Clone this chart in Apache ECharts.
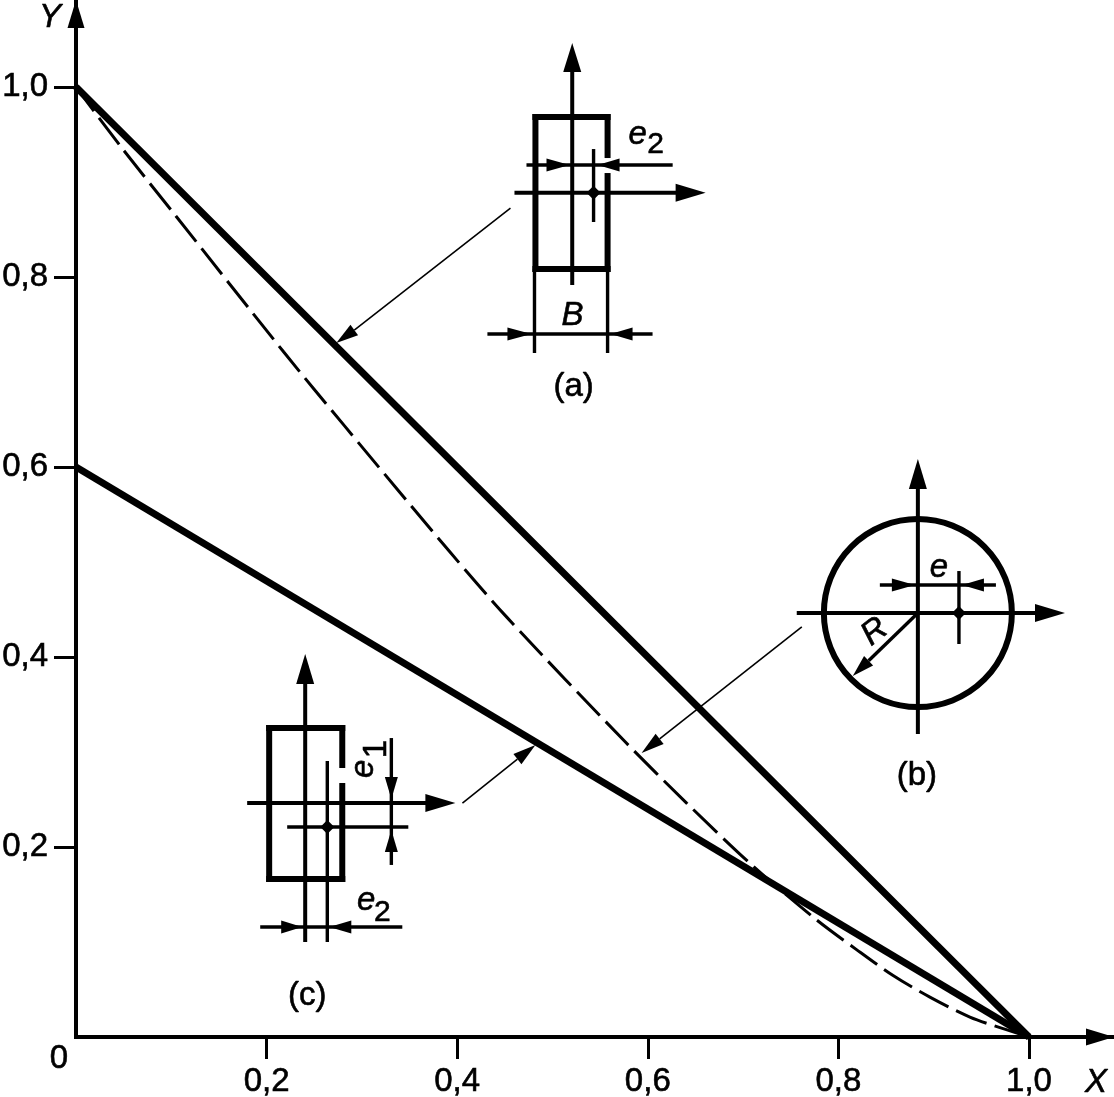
<!DOCTYPE html>
<html><head><meta charset="utf-8">
<style>html,body{margin:0;padding:0;background:#fff}#c{width:1114px;height:1097px}</style>
<script src="https://cdn.jsdelivr.net/npm/echarts@6/dist/echarts.min.js"></script>
</head><body><div id="c"></div>
<script>
const tickValues = [0.2, 0.4, 0.6, 0.8, 1.0];
const upperLine = [[0, 1], [1, 0]];
const lowerLine = [[0, 0.6], [1, 0]];
const dashedCurve = [[0,1],[.048,.936],[.105,.864],[.218,.721],[.282,.643],[.392,.511],[.452,.442],[.576,.311],[.641,.246],[.707,.183],[.775,.125],[.819,.092],[.857,.065],[.896,.042],[.938,.021],[.972,.009],[1,0]];

// inset outlines: [x1, y1, x2, y2] in axis units
const walls = [
  [.4821,.9684,.5578,.9684],[.4821,.9684,.4821,.8084],[.4821,.8084,.5578,.8084],[.5578,.9684,.5578,.9284],[.5578,.9063,.5578,.8084],
  [.2027,.3253,.2794,.3253],[.2027,.3253,.2027,.1663],[.2027,.1663,.2794,.1663],[.2794,.3253,.2794,.2863],[.2794,.2642,.2794,.1663]
];
const insetAxes = [
  [.5207,.7916,.5207,1.02],[.4601,.8887,.635,.8887],
  [.8834,.3189,.8834,.58],[.7563,.4463,1.01,.4463],
  [.2405,.1,.2405,.375],[.1796,.2463,.37,.2463]
];
const fineLines = [
  [.4727,.9179,.6261,.9179],[.5431,.9347,.5431,.8579],[.4811,.8084,.4811,.72],[.5578,.8084,.5578,.72],[.4317,.74,.6050,.74],
  [.8435,.4758,.9653,.4758],[.9265,.4905,.9265,.4137],[.8834,.4463,.8317,.3961],
  [.2637,.2905,.2637,.1],[.2216,.2211,.3487,.2211],[.3309,.3147,.3309,.1811],[.1933,.1158,.3424,.1158]
];
const leaders = [[.4559,.8726,.2920,.7442],[.7616,.4316,.6124,.3137],[.4055,.2463,.4632,.2926]];
// arrowheads: [tipX, tipY, baseX, baseY]
const bigHeads = [
  [.5207,1.0463,.5207,1.0158],[.6607,.8887,.6292,.8887],
  [.8834,.6084,.8834,.5768],[1.0378,.4463,1.0063,.4463],
  [.2405,.4032,.2405,.3716],[.3981,.2463,.3666,.2463]
];
const smallHeads = [
  [.5179,.9179,.4937,.9179],[.5473,.9179,.5704,.9179],[.4779,.74,.4527,.74],[.5609,.74,.5840,.74],
  [.8803,.4758,.8561,.4758],[.9296,.4758,.9527,.4758],[.8151,.38,.8317,.3961],
  [.3309,.2505,.3309,.2737],[.3309,.2179,.3309,.1947],[.2374,.1158,.2153,.1158],[.2658,.1158,.2889,.1158],
  [.2731,.7305,.2920,.7442],[.5935,.2989,.6124,.3137],[.4821,.3074,.4632,.2926]
];
const centroids = [[.5431,.8887],[.9265,.4463],[.2637,.2211]];
const circleCentre = [[.8834,.4463]];
// texts: [x, y, text]
const plainTexts = [[.5221,.6843,'(a)'],[.8824,.2748,'(b)'],[.2426,.0432,'(c)'],[-.0179,-.0232,'0']];
const italicTexts = [[-.0273,1.0727,'Y'],[1.0704,-.0484,'X'],[.5893,.9496,'e'],[.5210,.7590,'B'],[.9055,.4937,'e'],[.3046,.1432,'e']];
const subscripts = [[.6082,.9391,'2'],[.3214,.1306,'2']];
const rotatedTexts = [[.3025,.2822,'e',90,'italic'],[.3160,.3032,'1',90,'normal'],[.8382,.4263,'R',38,'italic']];

const FONT = '"Liberation Sans", Arial, sans-serif';
const segSeries = (name, data, width, cap) => ({
  type: 'custom', name, data, silent: true, clip: false, encode: {x: [0, 2], y: [1, 3]},
  renderItem: (p, api) => {
    const a = api.coord([api.value(0), api.value(1)]), b = api.coord([api.value(2), api.value(3)]);
    return {type: 'line', shape: {x1: a[0], y1: a[1], x2: b[0], y2: b[1]},
      style: {stroke: '#000', fill: null, lineWidth: width, lineCap: cap || 'butt'}};
  }
});
const headSeries = (name, data, half) => ({
  type: 'custom', name, data, silent: true, clip: false, z: 5, encode: {x: [0, 2], y: [1, 3]},
  renderItem: (p, api) => {
    const t = api.coord([api.value(0), api.value(1)]), b = api.coord([api.value(2), api.value(3)]);
    const dx = t[0] - b[0], dy = t[1] - b[1], L = Math.hypot(dx, dy) || 1;
    const nx = -dy / L * half, ny = dx / L * half;
    return {type: 'polygon', shape: {points: [t, [b[0] + nx, b[1] + ny], [b[0] - nx, b[1] - ny]]},
      style: {fill: '#000'}};
  }
});
const textSeries = (name, rows, size, style) => ({
  type: 'scatter', name, silent: true, clip: false, symbolSize: 1, itemStyle: {color: 'transparent', opacity: 1},
  data: rows.map(r => ({value: [r[0], r[1]], name: r[2],
    label: {rotate: r[3] || 0, fontStyle: r[4] || style}})),
  label: {show: true, position: 'inside', formatter: '{b}', color: '#000', fontFamily: FONT,
    fontSize: size, align: 'center', verticalAlign: 'middle', textBorderColor: '#000', textBorderWidth: 0.6}
});
const axisCommon = {
  type: 'value', min: 0, splitLine: {show: false},
  axisLine: {show: true, onZero: false, symbol: ['none', 'triangle'], symbolSize: [17, 28], symbolOffset: [0, -14],
    lineStyle: {color: '#000', width: 4, cap: 'square'}},
  axisTick: {show: true, length: 22, customValues: tickValues, lineStyle: {color: '#000', width: 3}}
};
const label = (m, pad) => ({show: true, customValues: tickValues, margin: m, padding: pad, color: '#000', fontFamily: FONT, fontSize: 33,
  textBorderColor: '#000', textBorderWidth: 0.6,
  formatter: v => v.toFixed(1).replace('.', ',')});

const chart = echarts.init(document.getElementById('c'), null, {renderer: 'canvas'});
chart.setOption({
  animation: false, backgroundColor: '#fff',
  grid: {left: 76, top: 0, right: 0, bottom: 60, containLabel: false, outerBoundsMode: 'none'},
  xAxis: Object.assign({}, axisCommon, {max: 1.0892, axisLabel: label(28, 0)}),
  yAxis: Object.assign({}, axisCommon, {max: 1.0916, axisLabel: label(28, [4, 0, 0, 0])}),
  series: [
    {type: 'line', name: 'upper', data: upperLine, showSymbol: false, clip: false, lineStyle: {color: '#000', width: 7}},
    {type: 'line', name: 'lower', data: lowerLine, showSymbol: false, clip: false, lineStyle: {color: '#000', width: 7}},
    {type: 'line', name: 'dashed', data: dashedCurve, showSymbol: false, clip: false, smooth: 0.3,
      lineStyle: {color: '#000', width: 3, type: [33, 8.5], dashOffset: 3}},
    segSeries('walls', walls, 6, 'square'),
    segSeries('insetAxes', insetAxes, 4),
    segSeries('fine', fineLines, 3.4),
    segSeries('leaders', leaders, 1.6),
    headSeries('bigHeads', bigHeads, 9),
    headSeries('smallHeads', smallHeads, 6.5),
    {type: 'scatter', name: 'circle', data: circleCentre, symbolSize: 188, clip: false, silent: true,
      itemStyle: {color: 'transparent', borderColor: '#000', borderWidth: 6, opacity: 1}},
    {type: 'scatter', name: 'centroids', data: centroids, symbol: 'diamond', symbolSize: 14, clip: false, silent: true, z: 6,
      itemStyle: {color: '#000', opacity: 1}},
    textSeries('plain', plainTexts, 33, 'normal'),
    textSeries('italic', italicTexts, 33, 'italic'),
    textSeries('subs', subscripts, 30, 'normal'),
    textSeries('rot', rotatedTexts, 33, 'normal')
  ]
});
</script></body></html>
